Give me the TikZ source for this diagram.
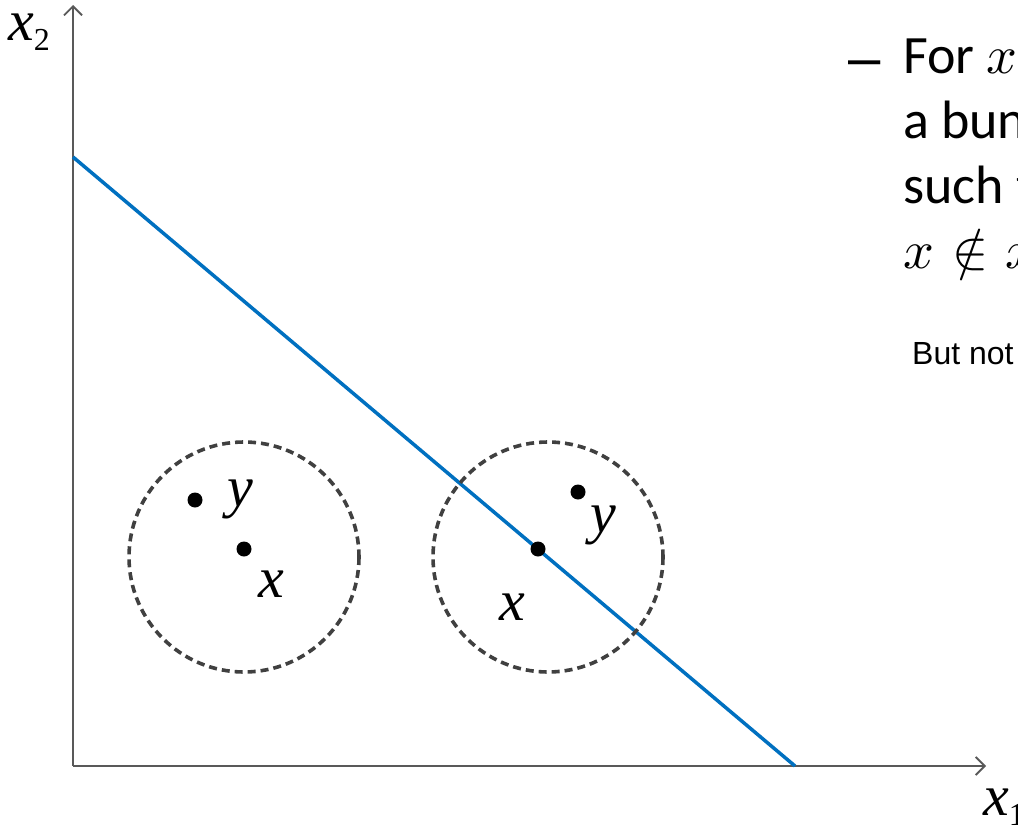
\documentclass[tikz,border=0pt]{standalone}
\usepackage{fontspec}
\setmainfont{Carlito}
\newfontfamily\timesfont{Liberation Serif}
\newfontfamily\arialfont{Liberation Sans}
\newfontfamily\mathtext{latinmodern-math.otf}
\usetikzlibrary{arrows.meta,positioning}
\definecolor{lineblue}{HTML}{0070C0}
\definecolor{axisgray}{HTML}{595959}
\definecolor{ballgray}{HTML}{404040}

\begin{document}
\begin{tikzpicture}[x=1pt, y=-1pt,
  axis/.style={draw=axisgray, line width=1.8pt, -{Straight Barb[length=9pt, width=18pt]}},
  budget/.style={draw=lineblue, line width=3.5pt},
  ball/.style={draw=ballgray, line width=3.6pt, dash pattern=on 8pt off 5pt},
  dot/.style={circle, fill=black, inner sep=0pt, minimum size=15pt},
  lbl/.style={font=\timesfont\itshape\fontsize{58}{58}\selectfont, inner sep=0pt, anchor=base},
  bullet/.style={font=\fontsize{54}{65}\selectfont, inner sep=0pt, anchor=base west}
]
\useasboundingbox (0,0) rectangle (1018,827);
\clip (0,0) rectangle (1018,827);

% axes
\coordinate (O) at (73,766);
\coordinate (ytop) at (73,5);
\coordinate (xend) at (986,766);
\draw[axis] (O) -- (ytop);
\draw[axis] (O) -- (xend);
\node[lbl, anchor=base west, text height=28pt] (xtwo) at (8,40) {x{\upshape\fontsize{32}{32}\selectfont\raisebox{-10pt}{2}}};
\node[lbl, anchor=base west] (xone) at (983,815) {x{\upshape\fontsize{32}{32}\selectfont\raisebox{-10pt}{1}}};

% budget line
\coordinate (bA) at (73,157);
\coordinate (bB) at (795,766);
\draw[budget] (bA) -- (bB);

% neighbourhoods
\draw[ball] (244,557) circle[radius=115];
\draw[ball] (548,557) circle[radius=115];

% bundles
\node[dot] (yl) at (195,500) {};
\node[dot] (xl) at (244,549) {};
\node[dot] (yr) at (578,492) {};
\node[dot] (xr) at (538,549) {};
\node[lbl] (ylab) at (240,506) {y};
\node[lbl] (xlab) at (271,597) {x};
\node[lbl] (yrlab) at (603,532) {y};
\node[lbl] (xrlab) at (512,620) {x};

% text on the right
\node[font=\arialfont\fontsize{58}{58}\selectfont, inner sep=0pt, anchor=base west] (dash) at (848,77) {–};
\foreach \ln/\yy in {{For {\mathtext 𝑥}}/73, {a bun}/138, {such t}/203, {{\mathtext 𝑥 ∉ 𝑥}}/268}
  \node[bullet] (line\yy) at (903,\yy) {\ln};
\node[font=\arialfont\fontsize{32}{32}\selectfont, inner sep=0pt, anchor=base west] (butnot) at (912,364) {But not};

\end{tikzpicture}
\end{document}
